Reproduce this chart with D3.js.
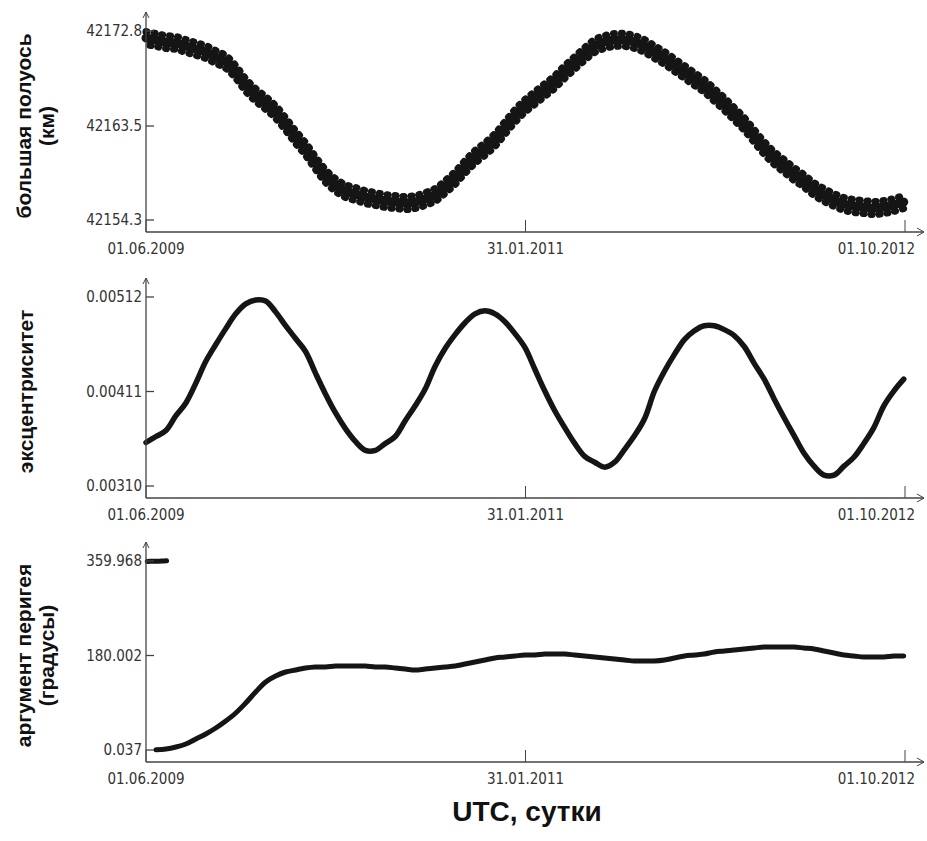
<!DOCTYPE html>
<html>
<head>
<meta charset="utf-8">
<script src="https://cdn.jsdelivr.net/npm/d3@7"></script>
<style>
  body { margin: 0; background: #fff; }
  .tick-label { font-family: "DejaVu Sans Condensed", "DejaVu Sans", sans-serif; font-stretch: condensed; font-size: 15px; fill: #333; }
  .title { font-family: "Liberation Sans", Arial, sans-serif; font-weight: bold; fill: #111; }
</style>
</head>
<body>
<svg id="chart" width="927" height="841"></svg>
<script>
// days since 01.06.2009 (UTC)
var days = [0, 16, 32, 48, 64, 80, 96, 112, 128, 144, 160, 176, 192, 208, 224, 240, 256, 272, 288, 304,
    320, 336, 352, 368, 384, 400, 416, 432, 448, 464, 480, 496, 512, 528, 544, 560, 576, 592, 608, 624,
    640, 656, 672, 688, 704, 720, 736, 752, 768, 784, 800, 816, 832, 848, 864, 880, 896, 912, 928, 944,
    960, 976, 992, 1008, 1024, 1040, 1056, 1072, 1088, 1104, 1120, 1136, 1152, 1168, 1184, 1200, 1216];

// большая полуось, км
var semiAxis = [42172.11, 42171.92, 42171.72, 42171.63, 42171.33, 42171.04, 42170.74, 42170.25, 42169.77, 42168.79,
    42167.51, 42166.54, 42165.75, 42164.87, 42163.70, 42162.42, 42161.25, 42159.88, 42158.61, 42157.73,
    42157.14, 42156.85, 42156.55, 42156.36, 42156.16, 42156.06, 42155.96, 42156.06, 42156.36, 42156.75,
    42157.53, 42158.41, 42159.49, 42160.47, 42161.25, 42162.13, 42163.31, 42164.48, 42165.46, 42166.24,
    42167.02, 42167.81, 42168.79, 42169.67, 42170.55, 42171.33, 42171.72, 42171.92, 42171.92, 42171.72,
    42171.33, 42170.74, 42170.16, 42169.47, 42168.79, 42168.10, 42167.42, 42166.54, 42165.65, 42164.68,
    42163.70, 42162.52, 42161.35, 42160.37, 42159.59, 42158.80, 42158.12, 42157.33, 42156.75, 42156.26,
    42155.87, 42155.67, 42155.57, 42155.47, 42155.57, 42155.77, 42156.06];

// эксцентриситет
var eccentricity = [0.003565, 0.003629, 0.003692, 0.003851, 0.003988, 0.004200, 0.004433, 0.004612, 0.004782, 0.004940,
    0.005046, 0.005088, 0.005078, 0.004961, 0.004813, 0.004676, 0.004538, 0.004306, 0.004084, 0.003883,
    0.003713, 0.003576, 0.003481, 0.003481, 0.003555, 0.003629, 0.003798, 0.003957, 0.004136, 0.004380,
    0.004570, 0.004718, 0.004845, 0.004940, 0.004972, 0.004940, 0.004856, 0.004729, 0.004581, 0.004348,
    0.004115, 0.003904, 0.003724, 0.003555, 0.003417, 0.003354, 0.003301, 0.003354, 0.003491, 0.003639,
    0.003819, 0.004115, 0.004327, 0.004507, 0.004665, 0.004760, 0.004813, 0.004813, 0.004771, 0.004708,
    0.004591, 0.004411, 0.004242, 0.004031, 0.003830, 0.003639, 0.003449, 0.003312, 0.003216, 0.003216,
    0.003312, 0.003407, 0.003555, 0.003724, 0.003957, 0.004115, 0.004242];

// аргумент перигея, градусы (first sample wraps to ~360, see perigeeWrap)
var perigee = [null, 0.3, 1.94, 5.75, 11.46, 20.99, 30.51, 41.93, 55.26, 70.50,
    89.54, 110.49, 129.54, 140.96, 148.58, 152.39, 156.20, 158.10, 158.10, 160.01,
    160.01, 160.01, 160.01, 158.10, 158.10, 156.20, 154.29, 152.39, 154.29, 156.20,
    158.10, 160.01, 163.82, 167.63, 171.43, 175.24, 177.15, 179.05, 180.96, 180.96,
    182.86, 182.86, 182.86, 180.96, 179.05, 177.15, 175.24, 173.34, 171.43, 169.53,
    169.53, 169.53, 171.43, 175.24, 179.05, 180.96, 182.86, 186.67, 188.57, 190.48,
    192.38, 194.29, 196.19, 196.19, 196.19, 196.19, 194.29, 192.38, 188.57, 184.77,
    180.96, 179.05, 177.15, 177.15, 177.15, 179.05, 179.05];
var perigeeWrapDays = [2, 10, 18, 26, 33];
var perigeeWrap = [359.1, 359.4, 359.6, 359.8, 360.6];

var dateTicks = ["2009-06-01", "2011-01-31", "2012-10-01"];
var dateLabels = ["01.06.2009", "31.01.2011", "01.10.2012"];

var semiAxisTicks = [42154.3, 42163.5, 42172.8];
var eccTicks = [0.00310, 0.00411, 0.00512];
var eccLabels = ["0.00310", "0.00411", "0.00512"];
var perigeeTicks = [0.037, 180.002, 359.968];

var svg = d3.select("#chart");
var parse = d3.utcParse("%Y-%m-%d");
var start = parse(dateTicks[0]);
var toDate = function(d) { return d3.utcDay.offset(start, d); };

var axisLeft = 146;
var x = d3.scaleUtc()
    .domain([start, parse(dateTicks[2])])
    .range([axisLeft, 905]);

var panels = [
    {axisY: 232, ticks: semiAxisTicks, labels: semiAxisTicks.map(d3.format(".1f")),
     title: ["большая полуось", "(км)"], width: 9, band: true,
     series: [{days: days, values: semiAxis}]},
    {axisY: 498, ticks: eccTicks, labels: eccLabels,
     title: ["эксцентриситет"], width: 5.5,
     series: [{days: days, values: eccentricity}]},
    {axisY: 762, ticks: perigeeTicks, labels: perigeeTicks.map(d3.format(".3f")),
     title: ["аргумент перигея", "(градусы)"], width: 5,
     series: [{days: days, values: perigee}, {days: perigeeWrapDays, values: perigeeWrap}]}
];

panels.forEach(function(p) {
    var y = d3.scaleLinear()
        .domain([p.ticks[0], p.ticks[2]])
        .range([p.axisY - 12, p.axisY - 201]);
    var g = svg.append("g");

    // data
    var line = d3.line()
        .defined(function(d) { return d[1] !== null; })
        .x(function(d) { return x(toDate(d[0])); })
        .y(function(d) { return y(d[1]); })
        .curve(d3.curveCatmullRom);
    p.series.forEach(function(s) {
        var pts = d3.zip(s.days, s.values);
        g.append("path")
            .datum(pts)
            .attr("d", line)
            .attr("fill", "none")
            .attr("stroke", "#151515")
            .attr("stroke-width", p.width)
            .attr("stroke-linejoin", "round")
            .attr("stroke-linecap", "round");
        if (p.band) {
            // short-period scatter of the points: two dotted rows around the mean
            [-6.5, 6.5].forEach(function(off, j) {
                g.append("path")
                    .datum(pts)
                    .attr("d", line)
                    .attr("transform", "translate(0," + off + ")")
                    .attr("fill", "none")
                    .attr("stroke", "#151515")
                    .attr("stroke-width", 7)
                    .attr("stroke-linecap", "round")
                    .attr("stroke-dasharray", "1,7")
                    .attr("stroke-dashoffset", j * 4);
            });
        }
    });

    // axes
    var axisColor = "#444";
    g.append("line")
        .attr("x1", axisLeft).attr("x2", axisLeft)
        .attr("y1", p.axisY).attr("y2", p.axisY - 220)
        .attr("stroke", axisColor).attr("stroke-width", 1.3);
    g.append("path")
        .attr("d", "M" + (axisLeft - 3) + "," + (p.axisY - 214) + "L" + axisLeft + "," + (p.axisY - 220) + "L" + (axisLeft + 3) + "," + (p.axisY - 214))
        .attr("fill", "none").attr("stroke", axisColor).attr("stroke-width", 1);
    g.append("line")
        .attr("x1", axisLeft).attr("x2", 924)
        .attr("y1", p.axisY).attr("y2", p.axisY)
        .attr("stroke", axisColor).attr("stroke-width", 1.3);
    g.append("path")
        .attr("d", "M917," + (p.axisY - 4) + "L924," + p.axisY + "L917," + (p.axisY + 4))
        .attr("fill", "none").attr("stroke", axisColor).attr("stroke-width", 1);

    // y ticks
    p.ticks.forEach(function(t, i) {
        g.append("line")
            .attr("x1", axisLeft).attr("x2", axisLeft + 8)
            .attr("y1", y(t)).attr("y2", y(t))
            .attr("stroke", axisColor).attr("stroke-width", 1.3);
        g.append("text")
            .attr("class", "tick-label")
            .attr("x", axisLeft - 4)
            .attr("y", y(t))
            .attr("dy", "0.36em")
            .attr("text-anchor", "end")
            .text(p.labels[i]);
    });

    // x ticks
    dateTicks.forEach(function(t, i) {
        var xp = x(parse(t));
        g.append("line")
            .attr("x1", xp).attr("x2", xp)
            .attr("y1", p.axisY).attr("y2", p.axisY - 12)
            .attr("stroke", axisColor).attr("stroke-width", 1);
        g.append("text")
            .attr("class", "tick-label")
            .attr("x", i === 2 ? xp + 10 : xp)
            .attr("y", p.axisY + 22)
            .attr("text-anchor", i === 2 ? "end" : "middle")
            .text(dateLabels[i]);
    });

    // y title
    var cy = y(p.ticks[1]);
    var cols = p.title.length === 2 ? [24, 47] : [26];
    p.title.forEach(function(txt, i) {
        g.append("text")
            .attr("class", "title")
            .attr("transform", "translate(" + cols[i] + "," + cy + ") rotate(-90)")
            .attr("dy", "0.35em")
            .attr("text-anchor", "middle")
            .style("font-size", "21px")
            .text(txt);
    });
});

svg.append("text")
    .attr("class", "title")
    .attr("x", 527)
    .attr("y", 821)
    .attr("text-anchor", "middle")
    .style("font-size", "28px")
    .text("UTC, сутки");
</script>
</body>
</html>
